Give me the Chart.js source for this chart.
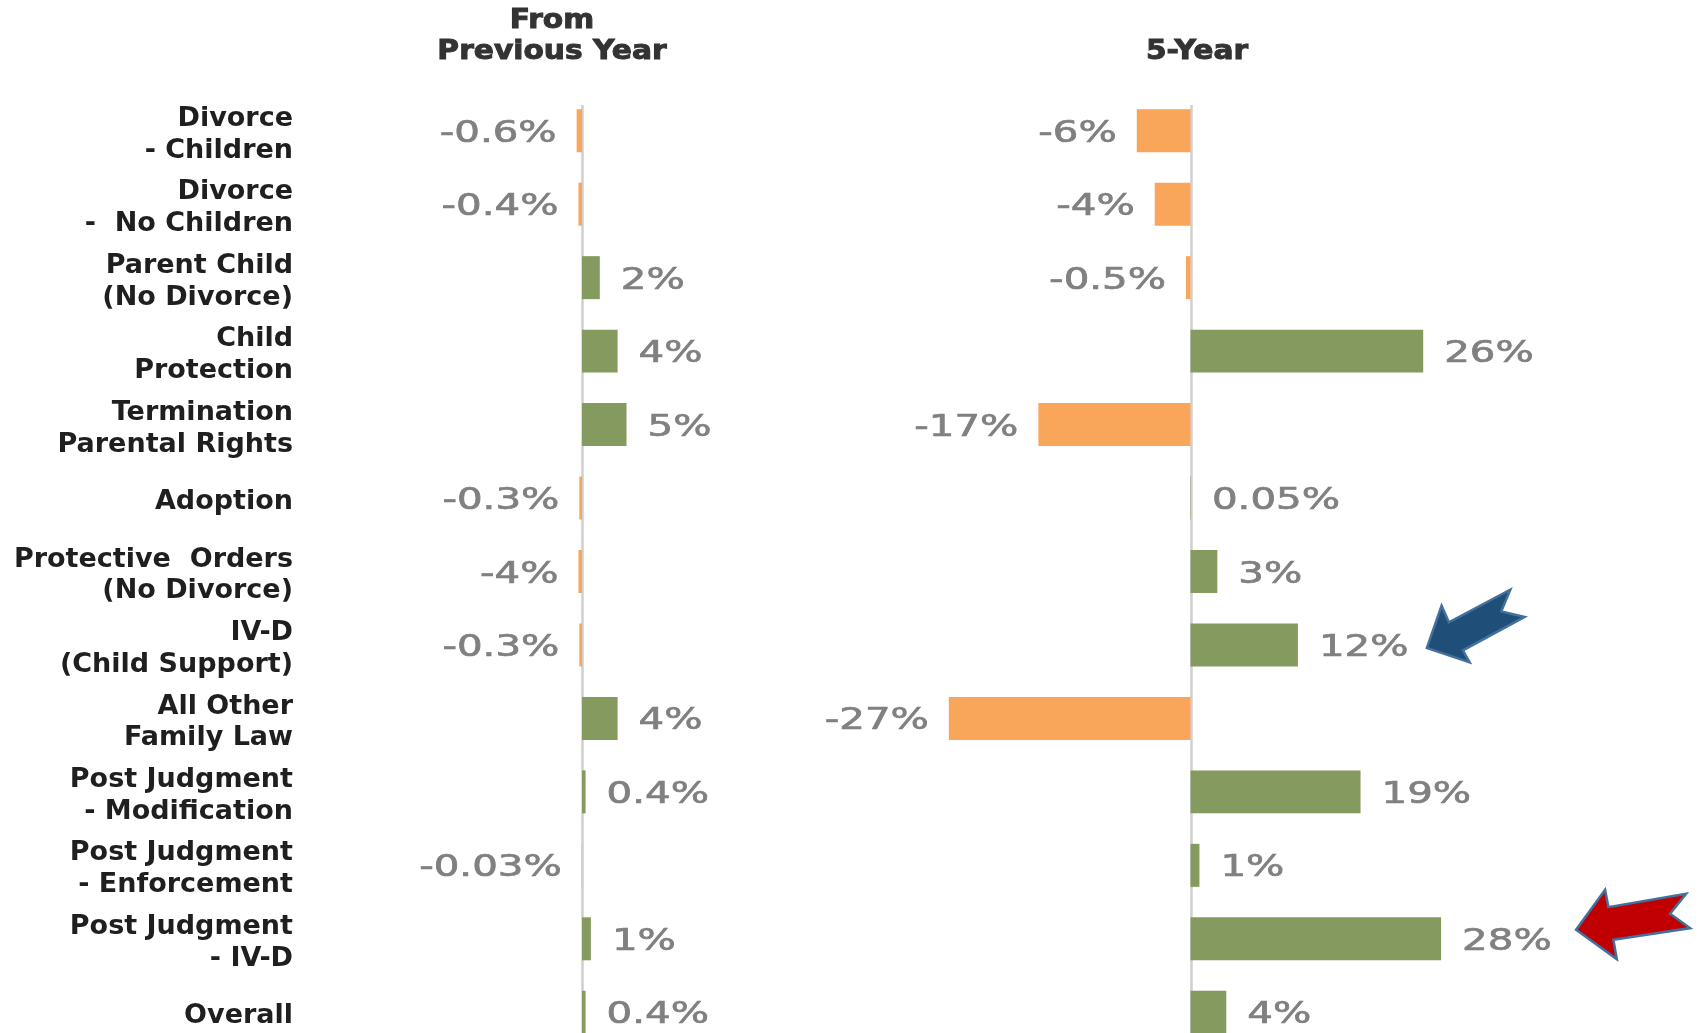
<!DOCTYPE html>
<html>
<head>
<meta charset="utf-8">
<script src="https://cdn.jsdelivr.net/npm/chart.js@4.4.1/dist/chart.umd.min.js"></script>
<style>
	html, body { margin: 0; padding: 0; background: #fff; overflow: hidden; }
	#wrap { position: relative; width: 1698px; height: 1033px; overflow: hidden; }
	.panel { position: absolute; top: 0; height: 1060px; }
</style>
</head>
<body>
<div id="wrap">
	<div class="panel" style="left:0;width:860px"><canvas id="prevYear"></canvas></div>
	<div class="panel" style="left:700px;width:998px"><canvas id="fiveYear"></canvas></div>
</div>
<script>
const categories = [
	["Divorce", "- Children"],
	["Divorce", "-  No Children"],
	["Parent Child", "(No Divorce)"],
	["Child", "Protection"],
	["Termination", "Parental Rights"],
	"Adoption",
	["Protective  Orders", "(No Divorce)"],
	["IV-D", "(Child Support)"],
	["All Other", "Family Law"],
	["Post Judgment", "- Modification"],
	["Post Judgment", "- Enforcement"],
	["Post Judgment", "- IV-D"],
	"Overall"
];

// change from previous year, in %
const prevYearValues = [-0.6, -0.4, 2, 4, 5, -0.3, -0.4, -0.3, 4, 0.4, -0.03, 1, 0.4];
const prevYearLabels = ["-0.6%", "-0.4%", "2%", "4%", "5%", "-0.3%", "-4%", "-0.3%", "4%", "0.4%", "-0.03%", "1%", "0.4%"];

// 5-year change, in %
const fiveYearValues = [-6, -4, -0.5, 26, -17, 0.05, 3, 12, -27, 19, 1, 28, 4];
const fiveYearLabels = ["-6%", "-4%", "-0.5%", "26%", "-17%", "0.05%", "3%", "12%", "-27%", "19%", "1%", "28%", "4%"];

const axisRange = [-30, 30];

const GREEN = "#849A5E";
const ORANGE = "#F9A55A";

function barColor(ctx) {
	return ctx.raw < 0 ? ORANGE : GREEN;
}

// text a bit wider and heavier than the plain font
function wideText(ctx, text, x, y, stretch, weight) {
	ctx.save();
	ctx.translate(x, y);
	ctx.scale(stretch, 1);
	ctx.lineWidth = weight;
	ctx.strokeStyle = ctx.fillStyle;
	ctx.fillText(text, 0, 0);
	ctx.strokeText(text, 0, 0);
	ctx.restore();
}

// zero line, value labels, titles and arrows
const decorPlugin = {
	id: "decor",
	beforeDatasetsDraw(chart) {
		let ctx = chart.ctx;
		let x = Math.round(chart.scales.x.getPixelForValue(0)) + 0.5;
		ctx.save();
		ctx.strokeStyle = "#cfcfcf";
		ctx.lineWidth = 2.5;
		ctx.beginPath();
		ctx.moveTo(x, chart.chartArea.top + 11);
		ctx.lineTo(x, chart.height);
		ctx.stroke();
		ctx.restore();
	},
	afterDatasetsDraw(chart, args, opts) {
		let ctx = chart.ctx;
		let meta = chart.getDatasetMeta(0);
		let values = chart.data.datasets[0].data;

		ctx.save();
		ctx.font = "31px 'DejaVu Sans'";
		ctx.fillStyle = "#808080";
		ctx.textBaseline = "middle";
		meta.data.forEach((bar, i) => {
			let neg = values[i] < 0;
			ctx.textAlign = neg ? "right" : "left";
			wideText(ctx, opts.labels[i], neg ? bar.x - 20 : bar.x + 21, bar.y + 3, 1.3, 0.7);
		});

		ctx.font = "bold 27px 'DejaVu Sans'";
		ctx.fillStyle = "#333333";
		ctx.textAlign = "center";
		(opts.titles || []).forEach(t => {
			wideText(ctx, t.text, t.x, t.y, 1.1, 0);
		});

		(opts.arrows || []).forEach(a => {
			let bar = meta.data[a.index];
			let tx = bar.x + a.dx, ty = bar.y + a.dy;
			ctx.beginPath();
			ctx.moveTo(tx, ty);
			a.shape.forEach(p => ctx.lineTo(tx + p[0], ty + p[1]));
			ctx.closePath();
			ctx.fillStyle = a.fill;
			ctx.fill();
			ctx.strokeStyle = "#41719C";
			ctx.lineWidth = 2.5;
			ctx.lineJoin = "miter";
			ctx.stroke();
		});
		ctx.restore();
	}
};

function makeChart(id, values, labels, showCategories, padding, decor) {
	let yScale = {
		display: showCategories,
		grid: { display: false, drawTicks: false },
		border: { display: false },
		ticks: {
			color: "#1f1f1f",
			padding: 22,
			labelOffset: 4,
			font: { family: "'DejaVu Sans'", size: 27, weight: "bold", lineHeight: 1.18 }
		}
	};
	if (showCategories) {
		// fixed label column, and no extra room for the outer labels
		yScale.afterFit = scale => {
			scale.width = 315;
			scale.paddingTop = 0;
			scale.paddingBottom = 0;
		};
	}
	return new Chart(document.getElementById(id), {
		type: "bar",
		plugins: [decorPlugin],
		data: {
			labels: categories,
			datasets: [{
				data: values,
				backgroundColor: barColor,
				barPercentage: 0.585,
				categoryPercentage: 1
			}]
		},
		options: {
			indexAxis: "y",
			responsive: true,
			maintainAspectRatio: false,
			animation: false,
			layout: { padding: padding },
			scales: {
				x: {
					type: "linear",
					min: axisRange[0],
					max: axisRange[1],
					display: false
				},
				y: yScale
			},
			plugins: {
				legend: { display: false },
				tooltip: { enabled: false },
				decor: Object.assign({ labels: labels }, decor)
			}
		}
	});
}

makeChart("prevYear", prevYearValues, prevYearLabels, true,
	{ top: 94, bottom: 11, left: 0, right: 11 },
	{
		titles: [
			{ text: "From", x: 552, y: 21 },
			{ text: "Previous Year", x: 552, y: 52 }
		]
	});

makeChart("fiveYear", fiveYearValues, fiveYearLabels, false,
	{ top: 94, bottom: 11, left: 222, right: 239 },
	{
		titles: [{ text: "5-Year", x: 497, y: 52 }],
		arrows: [
			{
				index: 7, dx: 129, dy: 3, fill: "#1F4E79",
				shape: [[14.7, -42.3], [22, -25.6], [83.4, -58.3], [74.4, -36.6], [97.7, -31], [36, 2.4], [42.7, 14.4]]
			},
			{
				index: 11, dx: 135, dy: -9, fill: "#C00000",
				shape: [[29, -40], [32.3, -22.7], [110, -36], [94, -16], [114, -1.7], [37.3, 10], [40.7, 29.3]]
			}
		]
	});
</script>
</body>
</html>
